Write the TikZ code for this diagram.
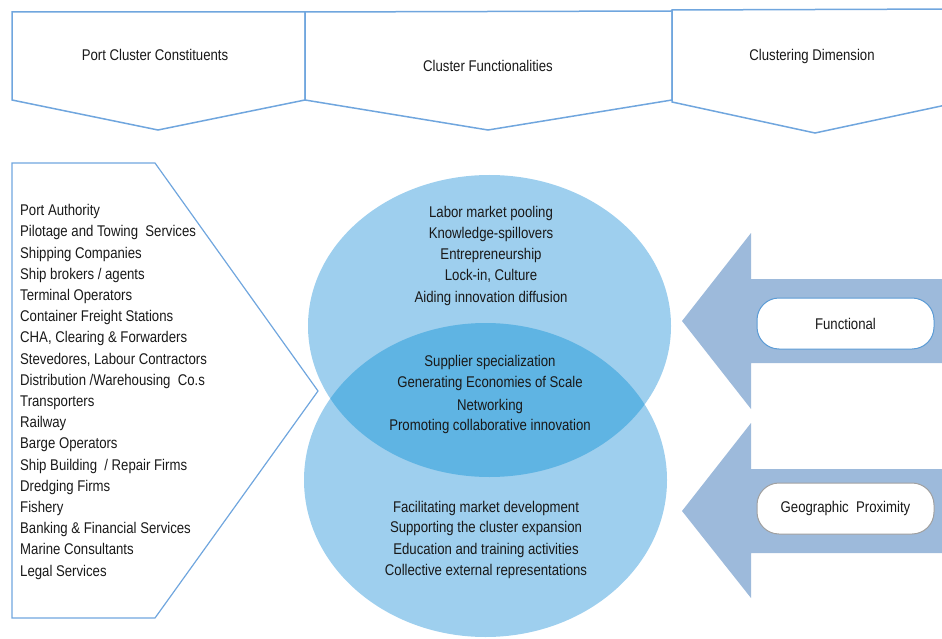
\documentclass[tikz,border=0pt]{standalone}
\usepackage{fontspec}
\setmainfont{Liberation Sans}[FakeStretch=0.85]
\definecolor{hdrline}{RGB}{112,166,222}
\definecolor{circfill}{RGB}{158,207,238}
\definecolor{overlapfill}{RGB}{95,180,227}
\definecolor{arrowfill}{RGB}{157,186,219}
\definecolor{funcborder}{RGB}{91,155,213}
\definecolor{geoborder}{RGB}{160,160,160}
\definecolor{txt}{RGB}{25,25,25}
\begin{document}
\begin{tikzpicture}[x=1pt,y=-1pt,
  hdr/.style={draw=hdrline,line width=1.5pt,line join=miter,fill=white},
  lbl/.style={font=\fontsize{15.5}{18}\selectfont,text=txt,inner sep=0pt},
  pill/.style={rounded corners=22pt,fill=white,line width=1pt},
  bigarrow/.style={fill=arrowfill,draw=none}]
\useasboundingbox (0,0) rectangle (942,639);
\clip (0,0) rectangle (942,639);
% header chevrons
\draw[hdr] (12,12) -- (305,12) -- (305,100) -- (158,130) -- (12,100) -- cycle;
\draw[hdr] (305,12) -- (672,11) -- (672,100) -- (488,130) -- (305,100) -- cycle;
\draw[hdr] (672,10) -- (960,9) -- (960,102) -- (815,133) -- (672,102) -- cycle;
\node[lbl] (h1) at (155,55) {Port Cluster Constituents};
\node[lbl] (h2) at (488,66) {Cluster Functionalities};
\node[lbl] (h3) at (812,56) {Clustering Dimension};
% left chevron
\draw[draw=hdrline,line width=1.2pt] (12,163) -- (155,163) -- (318,391) -- (155,618) -- (12,618) -- cycle;
\foreach \t [count=\i] in {Port Authority,Pilotage and Towing\ \ Services,Shipping\ Companies,Ship\ brokers / agents,Terminal\ Operators,Container\ Freight\ Stations,{CHA, Clearing\ \& Forwarders},{Stevedores, Labour\ Contractors},Distribution /Warehousing\ \ Co.s,Transporters,Railway,Barge\ Operators,Ship Building\ \ / Repair Firms,Dredging\ Firms,Fishery,Banking \& Financial\ Services,Marine\ Consultants,Legal\ Services}
  \node[lbl,anchor=base west] (l\i) at (20,{215.7+21.2*(\i-1)}) {\t};
% circles
\fill[circfill] (489.5,326) ellipse [x radius=181.5,y radius=151];
\fill[circfill] (485.5,480) ellipse [x radius=181.5,y radius=157];
\begin{scope}
  \clip (489.5,326) ellipse [x radius=181.5,y radius=151];
  \fill[overlapfill] (485.5,480) ellipse [x radius=181.5,y radius=157];
\end{scope}
\foreach \t/\y [count=\i] in {Labor market pooling/212,Knowledge-spillovers/233,Entrepreneurship/254,{Lock-in, Culture}/275,Aiding innovation diffusion/297}
  \node[lbl,anchor=base] (a\i) at (491,\y+5.5) {\t};
\foreach \t/\y [count=\i] in {Supplier specialization/361,Generating Economies of Scale/382,Networking/405,Promoting collaborative innovation/425}
  \node[lbl,anchor=base] (b\i) at (490,\y+5.5) {\t};
\foreach \t/\y [count=\i] in {Facilitating market development/507,Supporting the cluster expansion/527,Education and training activities/549,Collective external representations/570}
  \node[lbl,anchor=base] (c\i) at (486,\y+5.5) {\t};
% right arrows
\fill[bigarrow] (960,279) -- (751,279) -- (751,233) -- (682,321) -- (751,409) -- (751,363) -- (960,363) -- cycle;
\fill[bigarrow] (960,469) -- (751,469) -- (751,423) -- (682,511) -- (751,598) -- (751,553) -- (960,553) -- cycle;
\draw[pill,draw=funcborder] (757,298) rectangle (934,349);
\draw[pill,draw=geoborder] (757,483) rectangle (934,534);
\node[lbl] (f) at (845.5,323.5) {Functional};
\node[lbl] (g) at (845.5,508.5) {Geographic\ \ Proximity};
\end{tikzpicture}
\end{document}
